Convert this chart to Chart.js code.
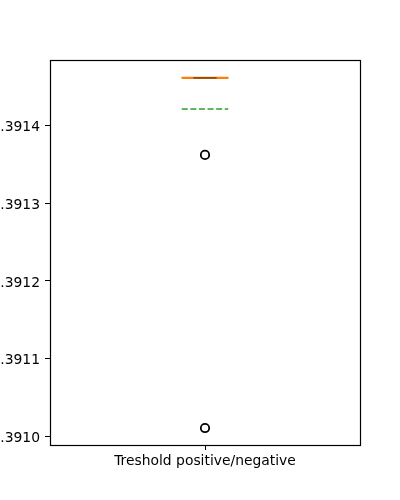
<!DOCTYPE html>
<html><head><meta charset="utf-8">
<script src="https://cdn.jsdelivr.net/npm/chart.js@4/dist/chart.umd.min.js"></script>
<style>html,body{margin:0;padding:0;background:#fff}</style>
</head><body>
<canvas id="c" width="400" height="500" style="width:400px;height:500px;display:block"></canvas>
<script>
// ---- data ----
const categories = ['Treshold positive/negative'];
const q1 = [0.3914619];
const median = [0.3914619];
const q3 = [0.3914619];
const whiskerLow = [0.3914619];
const whiskerHigh = [0.3914619];
const means = [0.3914219];
const outliers = [[0.3913626, 0.3910103]];
const yTicks = [0.3910, 0.3911, 0.3912, 0.3913, 0.3914];
const yLimits = [0.3909884, 0.391485];

// ---- build datasets ----
const boxHalf = 0.075, capHalf = 0.0375;
const datasets = [];
categories.forEach((cat, i) => {
  const x = i + 1;
  const line = (data, color, width, order, extra) => Object.assign({
    type: 'line', data, borderColor: color, borderWidth: width, pointRadius: 0,
    showLine: true, fill: false, order, tension: 0, parsing: false
  }, extra || {});
  // box
  datasets.push(line([
    {x: x - boxHalf, y: q1[i]}, {x: x + boxHalf, y: q1[i]},
    {x: x + boxHalf, y: q3[i]}, {x: x - boxHalf, y: q3[i]}, {x: x - boxHalf, y: q1[i]}
  ], '#000', 1.39, 10));
  // whiskers
  datasets.push(line([{x, y: q1[i]}, {x, y: whiskerLow[i]}], '#000', 1.39, 9));
  datasets.push(line([{x, y: q3[i]}, {x, y: whiskerHigh[i]}], '#000', 1.39, 9));
  // median
  datasets.push(line([{x: x - boxHalf, y: median[i]}, {x: x + boxHalf, y: median[i]}], '#ff7f0e', 2.08, 7));
  // caps (drawn faintly over the median as in the reference)
  datasets.push(line([{x: x - capHalf, y: whiskerLow[i]}, {x: x + capHalf, y: whiskerLow[i]}], 'rgba(0,0,0,0.3)', 1.39, 6));
  datasets.push(line([{x: x - capHalf, y: whiskerHigh[i]}, {x: x + capHalf, y: whiskerHigh[i]}], 'rgba(0,0,0,0.3)', 1.39, 6));
  // mean
  datasets.push(line([{x: x - boxHalf, y: means[i]}, {x: x + boxHalf, y: means[i]}], '#2ca02c', 1.5, 5, {borderDash: [6, 2.6]}));
  // outliers
  datasets.push({
    type: 'scatter', data: outliers[i].map(v => ({x, y: v})), parsing: false,
    pointStyle: 'circle', pointRadius: 4.2, pointHoverRadius: 4.2,
    backgroundColor: 'rgba(0,0,0,0)', borderColor: '#000', borderWidth: 1.8, order: 4
  });
});

Chart.defaults.font.family = 'DejaVu Sans';
Chart.defaults.font.size = 13.89;
Chart.defaults.color = '#000';

const frame = {
  id: 'frame',
  afterDraw(chart) {
    const {ctx, chartArea: a} = chart;
    ctx.save();
    ctx.strokeStyle = '#000';
    ctx.lineWidth = 1.2;
    ctx.strokeRect(Math.round(a.left) + 0.5, Math.round(a.top) + 0.5,
      Math.round(a.right - a.left), Math.round(a.bottom - a.top));
    ctx.restore();
  }
};

new Chart(document.getElementById('c'), {
  type: 'scatter',
  data: {datasets},
  options: {
    responsive: false,
    animation: false,
    devicePixelRatio: 1,
    layout: {padding: {left: 0, right: 40, top: 60, bottom: 0}},
    plugins: {legend: {display: false}, tooltip: {enabled: false}},
    scales: {
      x: {
        type: 'linear', min: 0.5, max: 1.5,
        afterBuildTicks: s => { s.ticks = categories.map((c, i) => ({value: i + 1})); },
        afterFit: s => { s.height = 55; },
        ticks: {callback: v => categories[Math.round(v) - 1] || '', padding: 3, maxRotation: 0, autoSkip: false},
        grid: {display: true, drawOnChartArea: false, tickLength: 5, tickColor: '#000', tickWidth: 1},
        border: {display: false}
      },
      y: {
        type: 'linear', min: yLimits[0], max: yLimits[1],
        afterBuildTicks: s => { s.ticks = yTicks.map(v => ({value: v})); },
        afterFit: s => { s.width = 50; },
        ticks: {callback: v => Number(v).toFixed(4), padding: 5, labelOffset: 2, autoSkip: false},
        grid: {display: true, drawOnChartArea: false, tickLength: 5, tickColor: '#000', tickWidth: 1},
        border: {display: false}
      }
    }
  },
  plugins: [frame]
});
</script>
</body></html>
